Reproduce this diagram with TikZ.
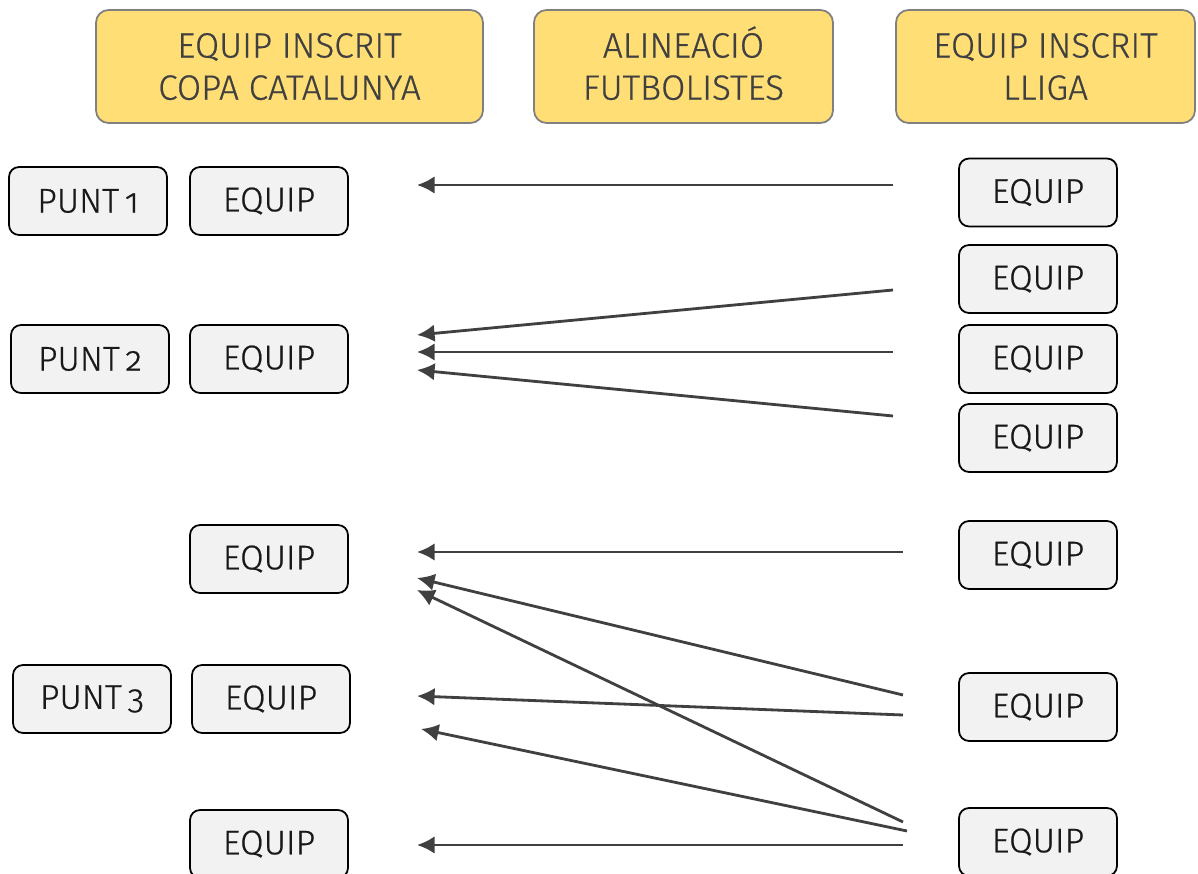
\documentclass[tikz,border=0pt]{standalone}
\usepackage{fontspec}
\setmainfont{Fira Sans Light}[Numbers=OldStyle,FakeBold=0.6]
\usepackage{tikz}
\usetikzlibrary{calc, arrows.meta}
\tikzset{>={Latex[length=10pt,width=10pt]}}
\definecolor{syellow}{RGB}{255, 222, 117}
\definecolor{sgray}{RGB}{128, 128, 128}
\definecolor{sdark}{RGB}{64, 64, 64}
\definecolor{sbox}{RGB}{242, 242, 242}

\begin{document}
\begin{tikzpicture}[x=0.02cm, y=-0.02cm,
    header/.style={rectangle,rounded corners=0.25cm,draw=sgray,fill=syellow,line width=1pt,minimum height=2.26cm,align=center,text=sdark,font=\fontsize{20}{24}\selectfont,text height=37.8pt,text depth=0pt},
    team/.style={rectangle,rounded corners=0.2cm,draw=black,fill=sbox,line width=1pt,minimum width=3.16cm,minimum height=1.36cm,text=black!90,font=\fontsize{19.5}{24}\selectfont},
    link/.style={->,line width=1.6pt,sdark}
  ]
  \useasboundingbox (0,0) rectangle (1198,874);

  % capcaleres
  \node[header,minimum width=7.74cm] (hcopa) at (289.5,66.5) {EQUIP INSCRIT\\COPA CATALUNYA};
  \node[header,minimum width=5.98cm] (halin) at (683.5,66.5) {ALINEACIÓ\\FUTBOLISTES};
  \node[header,minimum width=5.98cm] (hlliga) at (1045.5,66.5) {EQUIP INSCRIT\\LLIGA};

  % copa
  \node[team] (punt1) at (88,201) {PUNT\,1};
  \node[team] (punt2) at (90,359) {PUNT\,2};
  \node[team] (punt3) at (92,699) {PUNT\,3};
  \foreach \s/\x/\y in {1/269/201, 2/269/359, 3/269/559, 4/271/699, 5/269/844} {
    \node[team] (cq\s) at (\x,\y) {EQUIP};
  }

  % lliga
  \foreach \s/\y in {1/192.5, 2/279, 3/359, 4/438, 5/555, 6/707, 7/842} {
    \node[team] (lq\s) at (1038,\y) {EQUIP};
  }

  % fletxes
  \foreach \s/\xa/\ya/\xb/\yb in {1/893/185/417/185, 2/893/290/417/335, 3/893/352/417/352,
      4/893/416/417/370, 5/903/552/417/552, 6/903/695/417/578, 7/903/715/417/696,
      8/903/822/417/590, 9/907/831/421/729, 10/903/845/417/845} {
    \coordinate (from\s) at (\xa,\ya);
    \coordinate (to\s) at (\xb,\yb);
    \draw[link] (from\s) -- (to\s);
  }

\end{tikzpicture}
\end{document}
